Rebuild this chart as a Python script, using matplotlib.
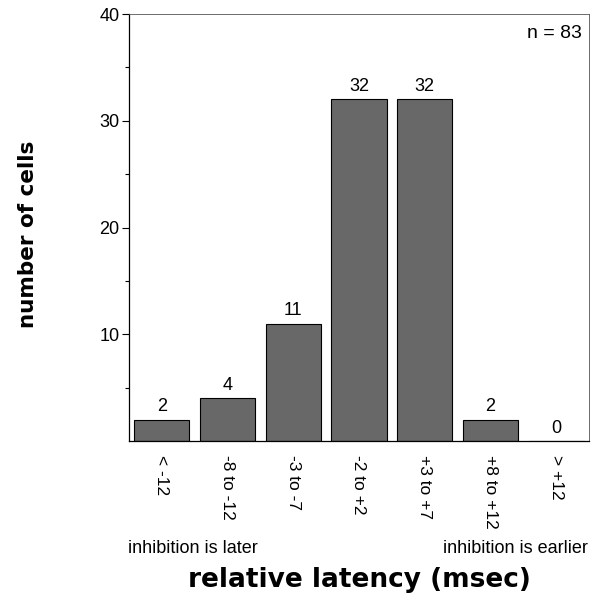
import matplotlib
matplotlib.use("Agg")
import matplotlib.pyplot as plt
from matplotlib.ticker import FixedLocator

plt.rcParams['font.family'] = ['Liberation Sans', 'DejaVu Sans']

categories = ["< -12", "-8 to -12", "-3 to -7", "-2 to +2", "+3 to +7", "+8 to +12", "> +12"]
counts = [2, 4, 11, 32, 32, 2, 0]
y_major = [10, 20, 30, 40]
y_minor = [5, 15, 25, 35]

fig = plt.figure(figsize=(6.01, 5.94), dpi=100)
ax = fig.add_axes([0.2146, 0.2576, 0.7654, 0.7188])

x = list(range(len(categories)))
ax.bar(x, counts, width=0.84, color="#686868", edgecolor="black", linewidth=0.8)

for xi, c in zip(x, counts):
    ax.text(xi, c + 0.4, str(c), ha="center", va="bottom", fontsize=13)

ax.set_xlim(-0.5, 6.5)
ax.set_ylim(0, 40)
ax.yaxis.set_major_locator(FixedLocator(y_major))
ax.yaxis.set_minor_locator(FixedLocator(y_minor))
ax.tick_params(axis="y", which="major", length=5, width=0.8, labelsize=13, pad=2)
ax.tick_params(axis="y", which="minor", length=3, width=0.8)
ax.set_xticks(x)
ax.set_xticklabels(categories, rotation=270, fontsize=12.5, va="top", ha="center")
ax.tick_params(axis="x", length=0, pad=10)

for s in ax.spines.values():
    s.set_linewidth(0.9)
ax.spines["top"].set_linewidth(0.6)
ax.spines["top"].set_color("#555555")
ax.spines["right"].set_linewidth(0.6)
ax.spines["right"].set_color("#555555")

ax.text(0.985, 0.975, "n = 83", transform=ax.transAxes, ha="right", va="top", fontsize=14)

heavy = dict(family="DejaVu Sans", fontweight="bold")
fig.text(0.047, 0.606, "number of cells", rotation=90, ha="center", va="center", fontsize=15.5, **heavy)

fig.text(0.213, 0.077, "inhibition is later", ha="left", va="center", fontsize=13)
fig.text(0.978, 0.077, "inhibition is earlier", ha="right", va="center", fontsize=13)
fig.text(0.598, 0.024, "relative latency (msec)", ha="center", va="center", fontsize=19, **heavy)

fig.savefig("out.png", dpi=100)
